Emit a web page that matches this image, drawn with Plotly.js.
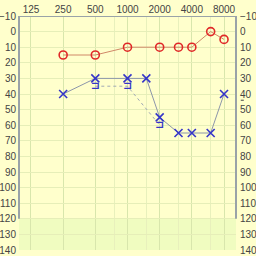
<!DOCTYPE html>
<html><head><meta charset="utf-8">
<script src="https://cdn.plot.ly/plotly-3.0.1.min.js"></script>
<style>html,body{margin:0;padding:0;background:#ffffcc;}#c{width:256px;height:256px;}</style>
</head><body><div id="c"></div>
<script>
const freqTicks = [125, 250, 500, 1000, 2000, 4000, 8000];
const freqMinor = [750, 1500, 3000, 6000];
const rightFreq = [250, 500, 1000, 2000, 3000, 4000, 6000, 8000];
const rightDb   = [15, 15, 10, 10, 10, 10, 0, 5];
const leftFreq  = [250, 500, 1000, 1500, 2000, 3000, 4000, 6000, 8000];
const leftDb    = [40, 30, 30, 30, 55, 65, 65, 65, 40];
const boneFreq  = [500, 1000, 2000];
const boneDb    = [35, 35, 60];
const dbTicks   = [-10,0,10,20,30,40,50,60,70,80,90,100,110,120,130,140];

const tickFont = {family:'Liberation Sans, Arial, sans-serif', size:10, color:'#444'};
const traces = [
  {x:rightFreq, y:rightDb, mode:'lines+markers', type:'scatter',
   line:{color:'#d08868', width:1},
   marker:{symbol:'circle-open', size:8, color:'#e02828', line:{width:1.6, color:'#e02828'}}},
  {x:leftFreq, y:leftDb, mode:'lines+markers', type:'scatter',
   line:{color:'#8c96aa', width:1},
   marker:{symbol:'x-thin-open', size:8, color:'#3535c8', line:{width:1.6, color:'#3535c8'}}},
  {x:boneFreq, y:boneDb, mode:'lines+text', type:'scatter', text:boneFreq.map(()=>'⊐'),
   textposition:'middle center',
   textfont:{family:'DejaVu Sans, sans-serif', size:11, color:'#3535c8', weight:'bold'},
   line:{color:'#a0a8b4', width:1, dash:'dot'}},
  {x:[1], y:[0], xaxis:'x', yaxis:'y2', mode:'markers', marker:{opacity:0}, hoverinfo:'skip'}
];
const layout = {
  width:256, height:256, showlegend:false,
  paper_bgcolor:'#ffffcc', plot_bgcolor:'#ffffcc',
  margin:{l:19, r:20, t:16, b:6},
  xaxis:{type:'log', range:[Math.log10(125)-0.112, Math.log10(8000)+0.112], side:'top',
    tickmode:'array', tickvals:freqTicks, ticktext:freqTicks.map(String),
    ticks:'', tickfont:tickFont, showgrid:true, gridcolor:'#d8e6ac', gridwidth:1,
    minor:{tickmode:'array', tickvals:freqMinor, showgrid:true, gridcolor:'#e8f0bc', gridwidth:1, ticks:''},
    zeroline:false, showline:false, fixedrange:true},
  yaxis:{range:[140,-10], tickmode:'array', tickvals:dbTicks, ticks:'', tickfont:tickFont,
    showgrid:true, gridcolor:'#e6eeb8', zeroline:false, showline:false, ticklabelstandoff:2},
  yaxis2:{range:[140,-10], overlaying:'y', side:'right', tickmode:'array', tickvals:dbTicks,
    ticks:'', tickfont:tickFont, showgrid:false, zeroline:false, showline:false, ticklabelstandoff:3},
  shapes:[
    {type:'rect', xref:'paper', yref:'y', x0:0, x1:1, y0:120, y1:140, fillcolor:'#f0fcc0', line:{width:0}, layer:'below'},
    {type:'line', xref:'paper', yref:'y', x0:0, x1:0, y0:-10, y1:120, line:{color:'#9aa3a8', width:2}},
    {type:'line', xref:'paper', yref:'y', x0:1, x1:1, y0:-10, y1:120, line:{color:'#9aa3a8', width:2}},
    {type:'line', xref:'paper', yref:'y', x0:0, x1:1, y0:-10, y1:-10, line:{color:'#9aa3a8', width:2}},
    {type:'line', xref:'paper', yref:'y', x0:1.022, x1:1.036, y0:44, y1:44, line:{color:'#444', width:1}}
  ]
};
Plotly.newPlot('c', traces, layout, {staticPlot:true, displayModeBar:false});
</script></body></html>
